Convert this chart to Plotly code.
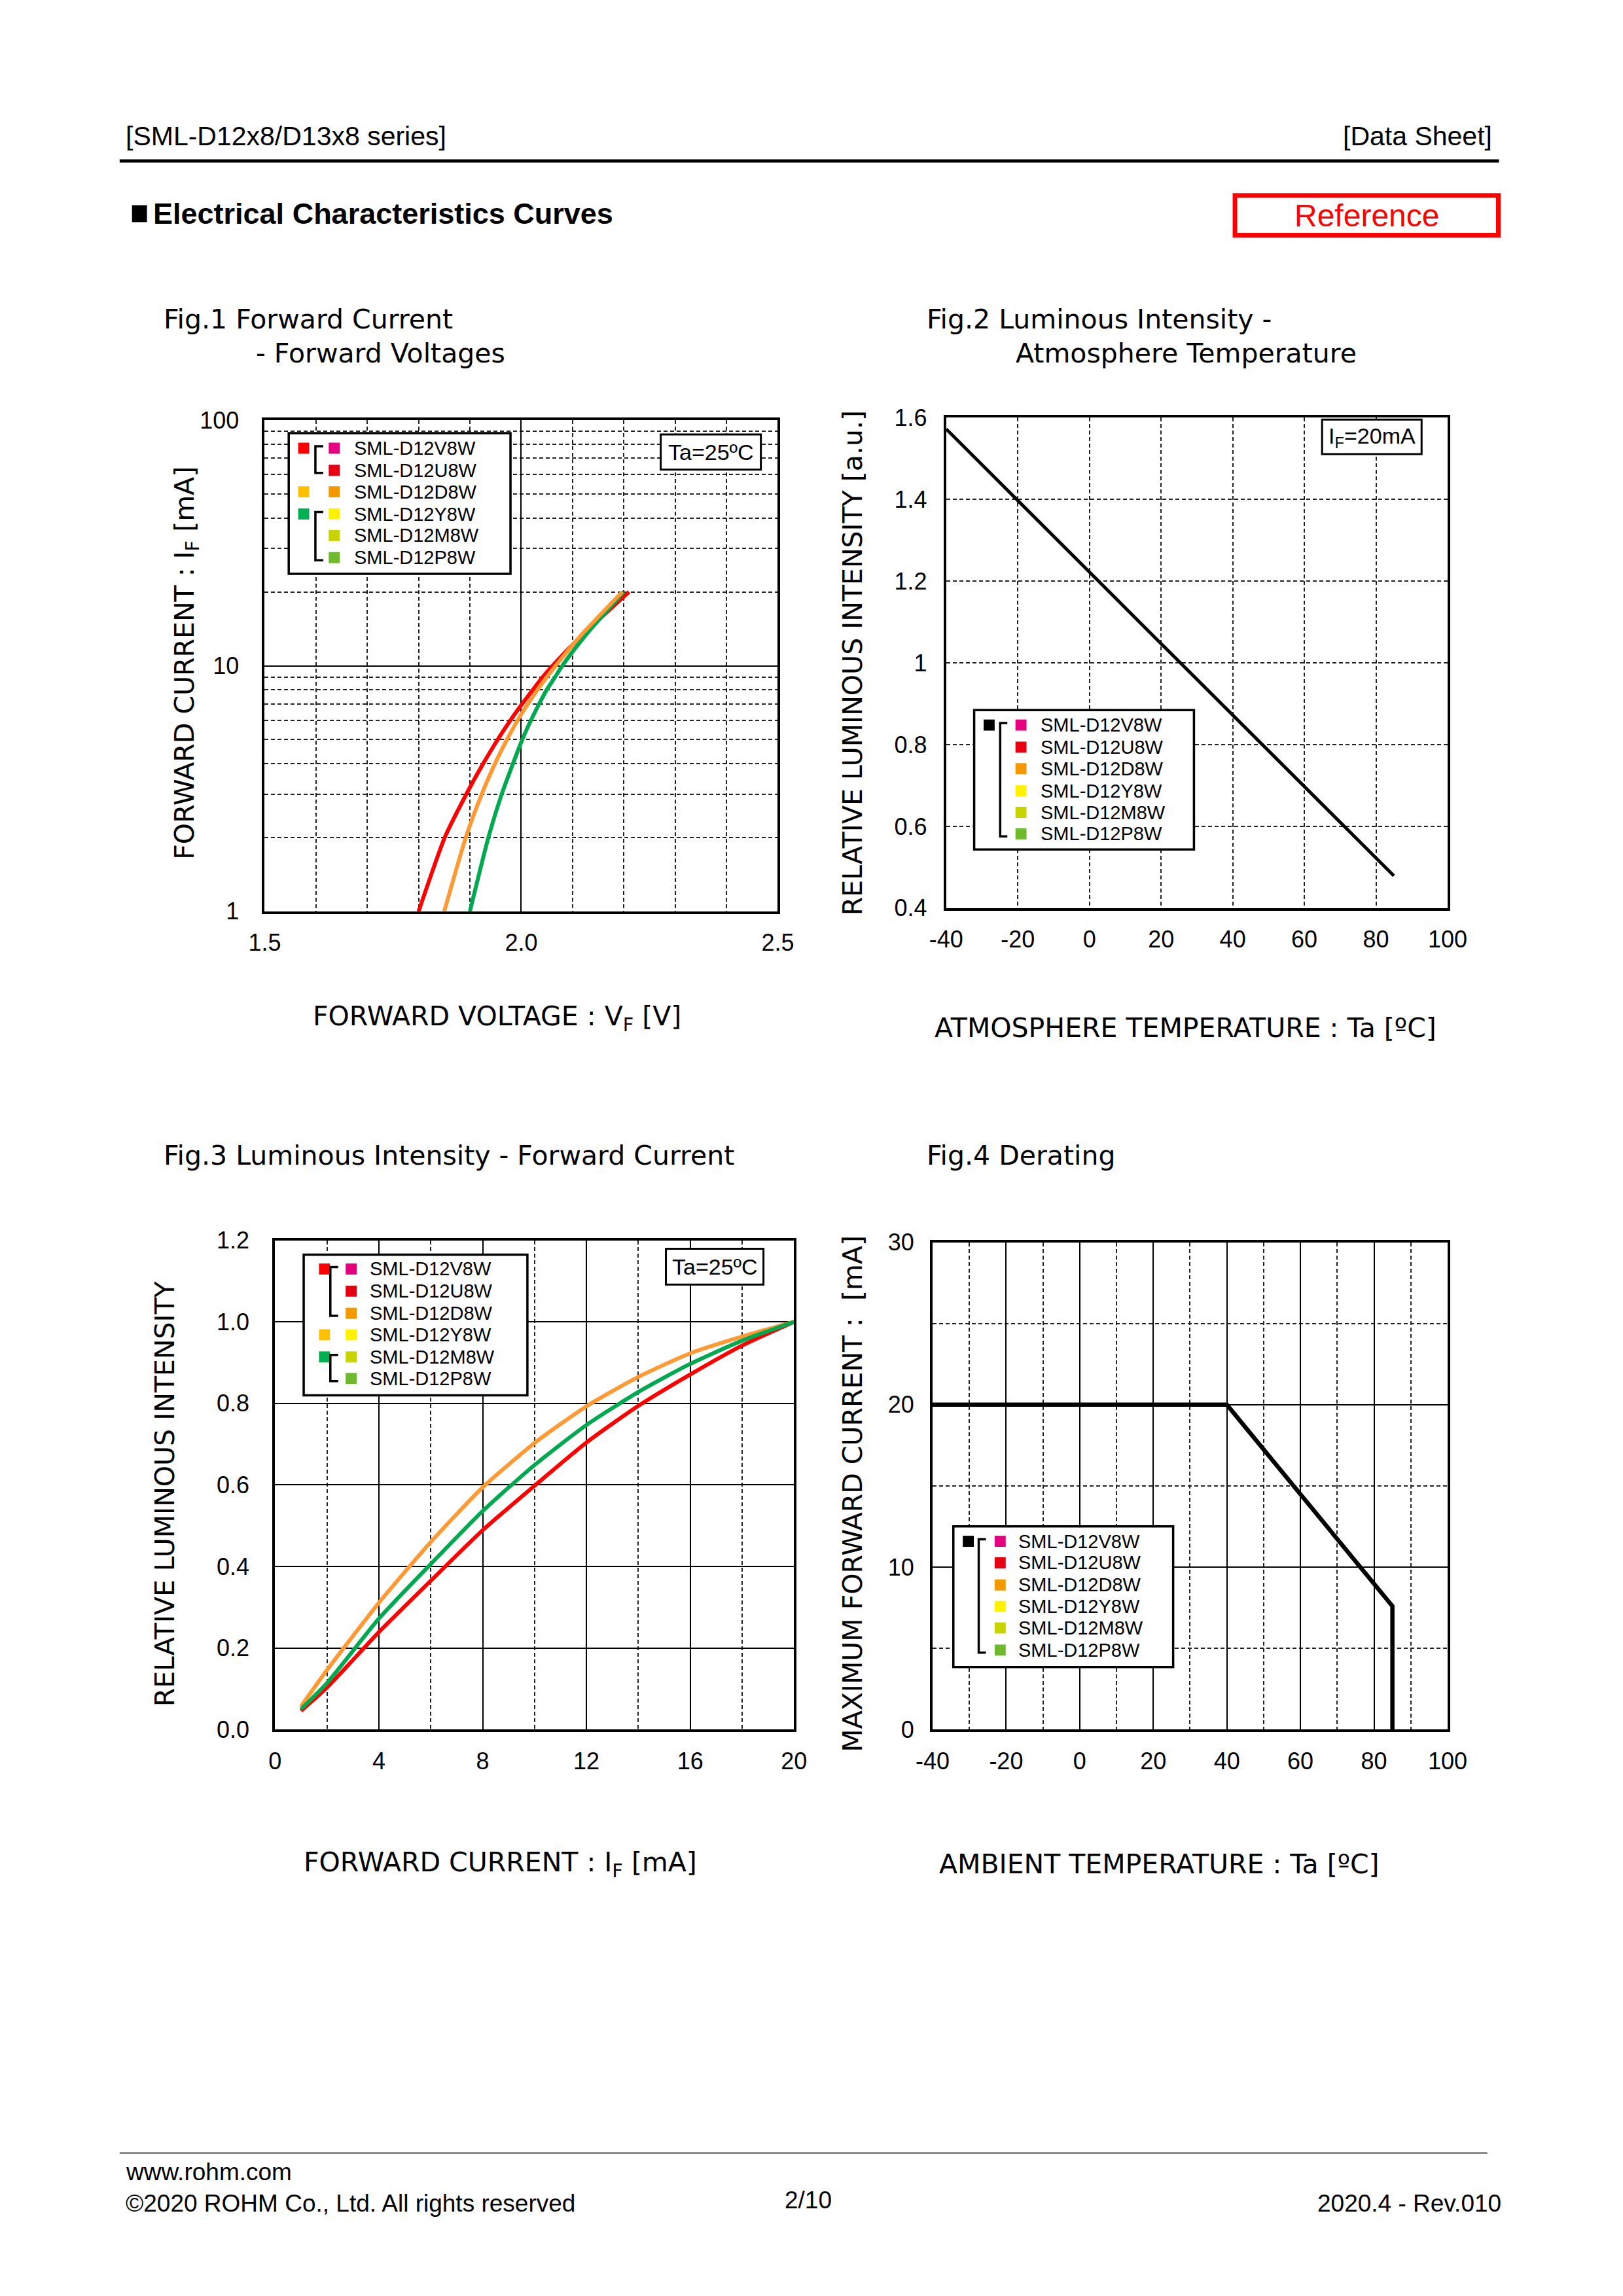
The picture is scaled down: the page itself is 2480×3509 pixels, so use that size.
import plotly.graph_objects as go

W, H = 2480, 3509

# ---------------- data ----------------
# Fig.1 Forward current vs forward voltage (log y)
f1_if = [1, 2, 3, 4, 5, 6, 7, 8, 9, 10, 13.2, 20]
f1_vf_red = [1.800, 1.851, 1.893, 1.926, 1.954, 1.979, 2.002, 2.023, 2.042, 2.061, 2.117, 2.210]
f1_vf_orange = [1.850, 1.892, 1.923, 1.949, 1.972, 1.993, 2.013, 2.032, 2.050, 2.067, 2.115, 2.197]
f1_vf_green = [1.900, 1.936, 1.962, 1.984, 2.002, 2.019, 2.035, 2.050, 2.066, 2.080, 2.124, 2.200]

# Fig.2 Relative luminous intensity vs ambient temperature
f2_temp = [-40, -20, 0, 20, 40, 60, 80, 85]
f2_rel = [1.572, 1.398, 1.222, 1.047, 0.872, 0.698, 0.523, 0.479]

# Fig.3 Relative luminous intensity vs forward current
f3_if = [1, 2, 4, 6, 8, 10, 12, 14, 16, 18, 20]
f3_orange = [0.057, 0.146, 0.311, 0.460, 0.594, 0.703, 0.793, 0.865, 0.923, 0.964, 1.0]
f3_green = [0.050, 0.114, 0.272, 0.406, 0.536, 0.649, 0.747, 0.828, 0.897, 0.954, 1.0]
f3_red = [0.046, 0.103, 0.239, 0.365, 0.489, 0.598, 0.704, 0.794, 0.871, 0.942, 1.0]

# Fig.4 Derating
f4_temp = [-40, 40, 85, 85]
f4_if = [20, 20, 7.6, 0]

# tick labels
f1_xticks = [1.5, 2.0, 2.5]
f1_xticktext = ["1.5", "2.0", "2.5"]
f1_xminor = [1.6, 1.7, 1.8, 1.9, 2.1, 2.2, 2.3, 2.4]
f1_yticks = [1, 10, 100]
f1_yticktext = ["1", "10", "100"]
f1_yminor = [2, 3, 4, 5, 6, 7, 8, 9, 20, 30, 40, 50, 60, 70, 80, 90]
temp_ticks = [-40, -20, 0, 20, 40, 60, 80, 100]
temp_ticktext = ["-40", "-20", "0", "20", "40", "60", "80", "100"]
f2_yticks = [0.4, 0.6, 0.8, 1.0, 1.2, 1.4, 1.6]
f2_yticktext = ["0.4", "0.6", "0.8", "1", "1.2", "1.4", "1.6"]

models = ["SML-D12V8W", "SML-D12U8W", "SML-D12D8W", "SML-D12Y8W", "SML-D12M8W", "SML-D12P8W"]
model_colors = ["#E4007F", "#E60012", "#F39800", "#FFF100", "#C8D400", "#6FBA2C"]

RED, ORANGE, GREEN = "#FF0000", "#FF9933", "#00A84F"
SQ_RED, SQ_ORANGE, SQ_GREEN = "#FF0000", "#FFC000", "#00B050"

TXT = "DejaVu Sans"
NUM = "Liberation Sans"

SX, SY = 0.9937, 0.9956


def px(x):
    return x * SX / W


def py(y):
    return 1 - y * SY / H


fig = go.Figure()
LW = 6
sp = dict(shape="spline", smoothing=0.6)

fig.add_trace(go.Scatter(x=f1_vf_red, y=f1_if, mode="lines", line=dict(color=RED, width=LW, **sp), xaxis="x", yaxis="y"))
fig.add_trace(go.Scatter(x=f1_vf_green, y=f1_if, mode="lines", line=dict(color=GREEN, width=LW, **sp), xaxis="x", yaxis="y"))
fig.add_trace(go.Scatter(x=f1_vf_orange, y=f1_if, mode="lines", line=dict(color=ORANGE, width=LW, **sp), xaxis="x", yaxis="y"))

fig.add_trace(go.Scatter(x=f2_temp, y=f2_rel, mode="lines", line=dict(color="black", width=5), xaxis="x2", yaxis="y2"))

fig.add_trace(go.Scatter(x=f3_if, y=f3_orange, mode="lines", line=dict(color=ORANGE, width=LW, **sp), xaxis="x3", yaxis="y3"))
fig.add_trace(go.Scatter(x=f3_if, y=f3_red, mode="lines", line=dict(color=RED, width=LW, **sp), xaxis="x3", yaxis="y3"))
fig.add_trace(go.Scatter(x=f3_if, y=f3_green, mode="lines", line=dict(color=GREEN, width=LW, **sp), xaxis="x3", yaxis="y3"))

fig.add_trace(go.Scatter(x=f4_temp, y=f4_if, mode="lines", line=dict(color="black", width=6.5), xaxis="x4", yaxis="y4"))

DASH = "6px,4px"
base = dict(showline=True, mirror=True, linecolor="black", linewidth=4, zeroline=False, automargin=False,
            tickfont=dict(family=NUM, size=36, color="black"), ticks="outside",
            tickcolor="rgba(0,0,0,0)", showgrid=True, gridwidth=1.5)


def ax(**kw):
    d = dict(base)
    d.update(kw)
    return d


def minor(**kw):
    d = dict(showgrid=True, gridcolor="#222", griddash=DASH, gridwidth=1.5)
    d.update(kw)
    return d


layout = dict(
    width=W, height=H, margin=dict(l=0, r=0, t=0, b=0, pad=0, autoexpand=False),
    paper_bgcolor="white", plot_bgcolor="white", showlegend=False,
    xaxis=ax(domain=[px(407), px(1196)], anchor="y", range=[1.5, 2.5], tickvals=f1_xticks, ticktext=f1_xticktext,
             gridcolor="black", ticklen=13, minor=minor(tickvals=f1_xminor)),
    yaxis=ax(domain=[py(1399), py(645)], anchor="x", type="log", range=[0, 2], tickvals=f1_yticks,
             ticktext=f1_yticktext, gridcolor="black", ticklen=28, minor=minor(tickvals=f1_yminor)),
    xaxis2=ax(domain=[px(1455), px(2226)], anchor="y2", range=[-40, 100], tickvals=temp_ticks, ticktext=temp_ticktext,
              gridcolor="#222", griddash=DASH, ticklen=13),
    yaxis2=ax(domain=[py(1394), py(641)], anchor="x2", range=[0.4, 1.6], tickvals=f2_yticks, ticktext=f2_yticktext,
              gridcolor="#222", griddash=DASH, ticklen=18),
    xaxis3=ax(domain=[px(423), px(1221)], anchor="y3", range=[0, 20], dtick=4, tick0=0,
              gridcolor="black", ticklen=13, minor=minor(dtick=2, tick0=0)),
    yaxis3=ax(domain=[py(2655), py(1904)], anchor="x3", range=[0, 1.2], dtick=0.2, tick0=0, tickformat=".1f",
              gridcolor="black", ticklen=28),
    xaxis4=ax(domain=[px(1434), px(2226)], anchor="y4", range=[-40, 100], tickvals=temp_ticks, ticktext=temp_ticktext,
              gridcolor="black", ticklen=13, minor=minor(dtick=10, tick0=-40)),
    yaxis4=ax(domain=[py(2655), py(1907)], anchor="x4", range=[0, 30], dtick=10, tick0=0,
              gridcolor="black", ticklen=17, minor=minor(dtick=5, tick0=0)),
)
fig.update_layout(**layout)

shapes = []
annots = []


def text(x, y, s, size=41, family=TXT, color="black", xanchor="left", yanchor="middle", angle=0, bold=False):
    if bold:
        s = "<b>" + s + "</b>"
    annots.append(dict(x=px(x), y=py(y), xref="paper", yref="paper", text=s, showarrow=False,
                       font=dict(family=family, size=size, color=color), xanchor=xanchor, yanchor=yanchor,
                       textangle=angle))


def rect(x0, y0, x1, y1, line_color="black", width=3, fill="white"):
    shapes.append(dict(type="rect", xref="paper", yref="paper", x0=px(x0), x1=px(x1), y0=py(y0), y1=py(y1),
                       line=dict(color=line_color, width=width), fillcolor=fill, layer="above"))


def line(x0, y0, x1, y1, color="black", width=3):
    shapes.append(dict(type="line", xref="paper", yref="paper", x0=px(x0), x1=px(x1), y0=py(y0), y1=py(y1),
                       line=dict(color=color, width=width), layer="above"))


def square(cx, cy, color, s=17):
    shapes.append(dict(type="rect", xref="paper", yref="paper", x0=px(cx - s / 2), x1=px(cx + s / 2),
                       y0=py(cy - s / 2), y1=py(cy + s / 2), line=dict(width=0), fillcolor=color, layer="above"))


def bracket(x, y0, y1, xr):
    path = "M %f,%f L %f,%f L %f,%f L %f,%f" % (px(xr), py(y0), px(x), py(y0), px(x), py(y1), px(xr), py(y1))
    shapes.append(dict(type="path", xref="paper", yref="paper", path=path, line=dict(color="black", width=3.5),
                       layer="above"))


def legend(box, rows, lsq_x, br_x, br_xr, rsq_x, txt_x, left_items, brackets):
    rect(*box, width=3.5)
    for (ri, col) in left_items:
        square(lsq_x, rows[ri], col)
    for (a, b) in brackets:
        bracket(br_x, rows[a] - 3, rows[b] + 4, br_xr)
    for i, (m, c) in enumerate(zip(models, model_colors)):
        square(rsq_x, rows[i], c)
        text(txt_x, rows[i], m, size=29, family=NUM)


# ---- header ----
text(191, 209, "[SML-D12x8/D13x8 series]", size=41, family=NUM)
text(2296, 209, "[Data Sheet]", size=41, family=NUM, xanchor="right")
line(184, 247, 2305, 247, width=5)
shapes.append(dict(type="rect", xref="paper", yref="paper", x0=px(203), x1=px(226), y0=py(341), y1=py(315),
                   line=dict(width=0), fillcolor="black"))
text(233, 328, "Electrical Characteristics Curves", size=45, family=NUM, bold=True)
rect(1899, 300, 2304, 361, line_color="#FF0000", width=7, fill="rgba(0,0,0,0)")
text(2102, 331, "Reference", size=48, family=NUM, color="#FF0000", xanchor="center")

# ---- Fig.1 ----
text(250, 490, "Fig.1 Forward Current", size=41)
text(391, 542, "- Forward Voltages", size=41)
text(286, 1018, "FORWARD CURRENT : I<sub>F</sub> [mA]", size=41, xanchor="center", angle=-90)
text(764, 1563, "FORWARD VOLTAGE : V<sub>F</sub> [V]", size=41, xanchor="center")
rows1 = [688, 722, 755, 789, 822, 856]
legend((444, 665, 785, 881), rows1, 467, 485, 497, 514, 542,
       [(0, SQ_RED), (2, SQ_ORANGE), (3, SQ_GREEN)], [(0, 1), (3, 5)])
rect(1016, 667, 1170, 721, width=3)
text(1093, 694, "Ta=25ºC", size=34, family=NUM, xanchor="center")

# ---- Fig.2 ----
text(1423, 490, "Fig.2 Luminous Intensity -", size=41)
text(1560, 542, "Atmosphere Temperature", size=41)
text(1311, 1018, "RELATIVE LUMINOUS INTENSITY [a.u.]", size=41, xanchor="center", angle=-90)
text(1823, 1578, "ATMOSPHERE TEMPERATURE : Ta [ºC]", size=41, xanchor="center")
rows2 = [1113, 1147, 1180, 1214, 1247, 1280]
legend((1498, 1090, 1836, 1304), rows2, 1521, 1538, 1549, 1570, 1598,
       [(0, "black")], [(0, 5)])
rect(2033, 644, 2186, 697, width=3)
text(2110, 671, "I<sub>F</sub>=20mA", size=34, family=NUM, xanchor="center")

# ---- Fig.3 ----
text(250, 1774, "Fig.3 Luminous Intensity - Forward Current", size=41)
text(254, 2293, "RELATIVE LUMINOUS INTENSITY", size=41, xanchor="center", angle=-90)
text(769, 2862, "FORWARD CURRENT : I<sub>F</sub> [mA]", size=41, xanchor="center")
rows3 = [1948, 1982, 2016, 2049, 2083, 2116]
legend((467, 1926, 811, 2142), rows3, 499, 508, 520, 540, 567,
       [(0, SQ_RED), (3, SQ_ORANGE), (4, SQ_GREEN)], [(0, 2), (4, 5)])
rect(1024, 1917, 1174, 1972, width=3)
text(1099, 1945, "Ta=25ºC", size=34, family=NUM, xanchor="center")

# ---- Fig.4 ----
text(1423, 1774, "Fig.4 Derating", size=41)
text(1311, 2293, "MAXIMUM FORWARD CURRENT :  [mA]", size=41, xanchor="center", angle=-90)
text(1783, 2862, "AMBIENT TEMPERATURE : Ta [ºC]", size=41, xanchor="center")
rows4 = [2366, 2399, 2433, 2466, 2499, 2533]
legend((1466, 2343, 1804, 2559), rows4, 1489, 1505, 1516, 1538, 1564,
       [(0, "black")], [(0, 5)])

# ---- footer ----
line(184, 3305, 2287, 3305, color="#444", width=2)
text(191, 3334, "www.rohm.com", size=37, family=NUM)
text(191, 3382, "©2020 ROHM Co., Ltd. All rights reserved", size=37, family=NUM)
text(1243, 3377, "2/10", size=37, family=NUM, xanchor="center")
text(2311, 3382, "2020.4 - Rev.010", size=37, family=NUM, xanchor="right")

fig.update_layout(shapes=shapes, annotations=annots)

fig.write_html("out.html", config={"displayModeBar": False},
               post_script="document.body.style.margin='0';document.body.style.overflow='hidden';")
